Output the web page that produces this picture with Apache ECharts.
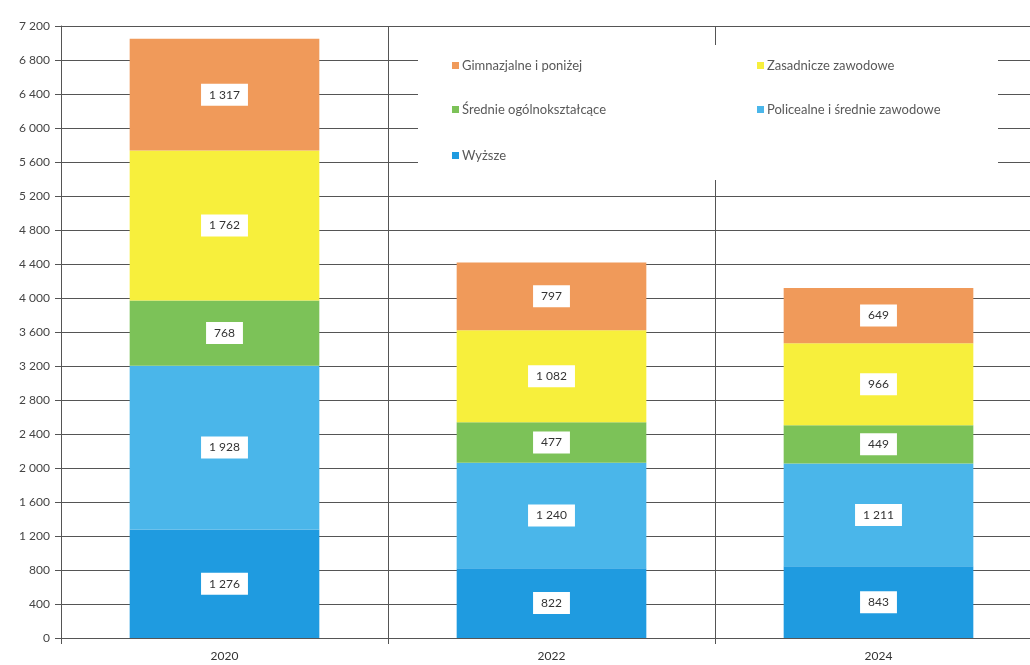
<!DOCTYPE html>
<html>
<head>
<meta charset="utf-8">
<script src="https://cdn.jsdelivr.net/npm/echarts@6/dist/echarts.min.js"></script>
<style>
html,body{margin:0;padding:0;background:#fff;}
#c{width:1030px;height:665px;}
</style>
</head>
<body>
<div id="c"></div>
<script>
const categories = ['2020', '2022', '2024'];
const seriesNames = ['Wyższe', 'Policealne i średnie zawodowe', 'Średnie ogólnokształcące', 'Zasadnicze zawodowe', 'Gimnazjalne i poniżej'];
const wyzsze = [1276, 822, 843];
const policealne = [1928, 1240, 1211];
const srednieOgolne = [768, 477, 449];
const zasadnicze = [1762, 1082, 966];
const gimnazjalne = [1317, 797, 649];
const colors = ['#1f9be0', '#4ab6ea', '#7cc258', '#f7ef3c', '#f09a5a'];
const yMax = 7200;
const yInterval = 400;

const values = [wyzsze, policealne, srednieOgolne, zasadnicze, gimnazjalne];
const fmt = v => String(v).replace(/\B(?=(\d{3})+(?!\d))/g, ' ');
const FONT = 'Lato';

const series = seriesNames.map((name, i) => ({
  name: name,
  type: 'bar',
  stack: 'total',
  barCategoryGap: '42%',
  data: values[i],
  itemStyle: { color: colors[i] },
  label: {
    show: true,
    position: 'inside',
    formatter: p => fmt(p.value),
    color: '#333',
    fontFamily: FONT,
    fontSize: 12,
    backgroundColor: '#fff',
    padding: [5, 8, 5, 8]
  }
}));

const legendPos = [
  { name: 'Gimnazjalne i poniżej', left: 452, top: 59 },
  { name: 'Zasadnicze zawodowe', left: 757, top: 59 },
  { name: 'Średnie ogólnokształcące', left: 452, top: 103 },
  { name: 'Policealne i średnie zawodowe', left: 757, top: 103 },
  { name: 'Wyższe', left: 452, top: 149 }
];
const legends = legendPos.map(l => ({
  data: [l.name],
  left: l.left,
  top: l.top,
  padding: 0,
  z: 10,
  itemWidth: 7,
  itemHeight: 7,
  itemGap: 3,
  icon: 'rect',
  textStyle: { color: '#595959', fontFamily: FONT, fontSize: 13, padding: [0, 0, 0, -2] },
  selectedMode: false
}));

const chart = echarts.init(document.getElementById('c'), null, { renderer: 'canvas' });
chart.setOption({
  animation: false,
  backgroundColor: '#fff',
  grid: { left: 61, width: 981, top: 26, bottom: 27, containLabel: false, outerBoundsMode: 'none' },
  legend: legends,
  graphic: [{
    type: 'rect',
    shape: { x: 418, y: 45, width: 580, height: 135 },
    style: { fill: '#fff' },
    z: 2
  }],
  xAxis: {
    type: 'category',
    data: categories,
    axisLine: { show: true, lineStyle: { color: '#555', width: 1 } },
    axisTick: { show: true, length: 6, lineStyle: { color: '#555' } },
    splitLine: { show: true, lineStyle: { color: '#555', width: 1 } },
    axisLabel: { color: '#333', fontFamily: FONT, fontSize: 12, margin: 12 }
  },
  yAxis: {
    type: 'value',
    min: 0,
    max: yMax,
    interval: yInterval,
    axisLine: { show: true, lineStyle: { color: '#555', width: 1 } },
    axisTick: { show: true, length: 6, lineStyle: { color: '#555' } },
    splitLine: { show: true, lineStyle: { color: '#555', width: 1 } },
    axisLabel: { color: '#444', fontFamily: FONT, fontSize: 12, margin: 11, formatter: v => fmt(v) }
  },
  series: series
});
</script>
</body>
</html>
